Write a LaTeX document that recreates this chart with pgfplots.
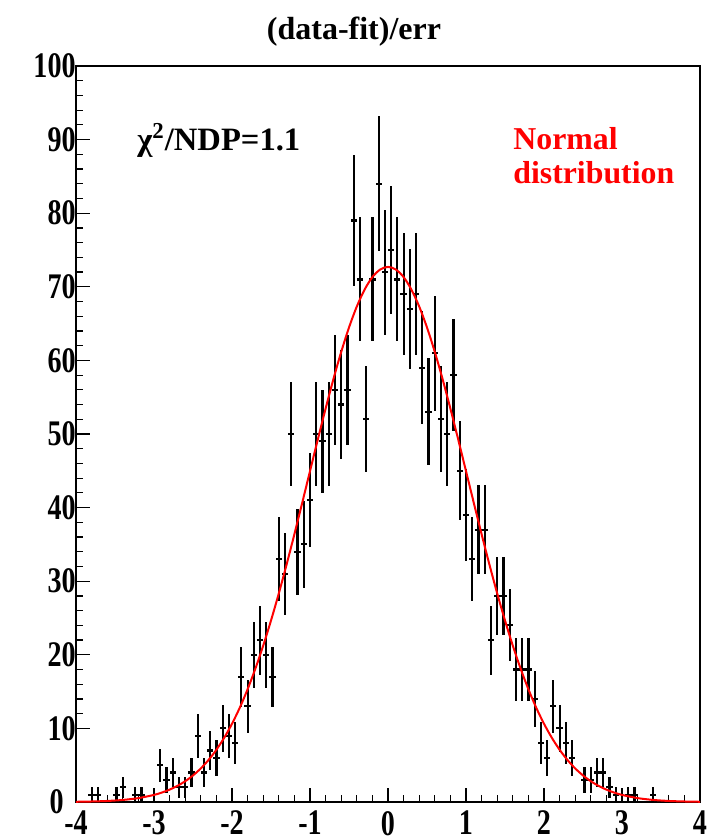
\documentclass[border=0pt]{standalone}
\usepackage{fontspec}
\setmainfont{Liberation Serif}
\newfontfamily\tickfont{Liberation Serif}[FakeStretch=0.78]
\usepackage{pgfplots}
\usepackage{pgfplotstable}
\pgfplotsset{compat=1.18}

\pgfplotstableread{
x y ey
-3.80 1 1
-3.72 1 1
-3.48 1 1
-3.40 2 1.414
-3.24 1 1
-3.16 1 1
-2.92 5 2.236
-2.84 3 1.732
-2.76 4 2
-2.68 2 1.414
-2.60 2 1.414
-2.52 4 2
-2.44 9 3
-2.36 4 2
-2.28 7 2.646
-2.20 6 2.449
-2.12 10 3.162
-2.04 9 3
-1.96 8 2.828
-1.88 17 4.123
-1.80 13 3.606
-1.72 20 4.472
-1.64 22 4.690
-1.56 20 4.472
-1.48 17 4.123
-1.40 33 5.745
-1.32 31 5.568
-1.24 50 7.071
-1.16 34 5.831
-1.08 35 5.916
-1.00 41 6.403
-0.92 50 7.071
-0.84 49 7
-0.76 50 7.071
-0.68 56 7.483
-0.60 54 7.348
-0.52 56 7.483
-0.44 79 8.888
-0.36 71 8.426
-0.28 52 7.211
-0.20 71 8.426
-0.12 84 9.165
-0.04 72 8.485
0.04 75 8.660
0.12 71 8.426
0.20 69 8.307
0.28 67 8.185
0.36 69 8.307
0.44 59 7.681
0.52 53 7.280
0.60 61 7.810
0.68 52 7.211
0.76 50 7.071
0.84 58 7.616
0.92 45 6.708
1.00 39 6.245
1.08 33 5.745
1.16 37 6.083
1.24 37 6.083
1.32 22 4.690
1.40 28 5.292
1.48 28 5.292
1.56 24 4.899
1.64 18 4.243
1.72 18 4.243
1.80 18 4.243
1.88 14 3.742
1.96 8 2.828
2.04 6 2.449
2.12 13 3.606
2.20 10 3.162
2.28 8 2.828
2.36 6 2.449
2.52 3 1.732
2.60 3 1.732
2.68 4 2
2.76 4 2
2.84 2 1.414
2.92 1 1
3.08 1 1
3.16 1 1
3.40 1 1
}\datatable

\pgfplotstableread{
x y
-4.0 0.03
-3.8 0.07
-3.6 0.14
-3.4 0.28
-3.2 0.53
-3.0 0.96
-2.9 1.28
-2.8 1.68
-2.7 2.19
-2.6 2.82
-2.5 3.61
-2.4 4.56
-2.3 5.72
-2.2 7.10
-2.1 8.73
-2.0 10.63
-1.9 12.82
-1.8 15.32
-1.7 18.13
-1.6 21.24
-1.5 24.66
-1.4 28.34
-1.3 32.27
-1.2 36.39
-1.1 40.64
-1.0 44.96
-0.9 49.26
-0.8 53.45
-0.7 57.45
-0.6 61.15
-0.5 64.47
-0.4 67.32
-0.3 69.62
-0.2 71.32
-0.1 72.35
0.0 72.70
0.1 72.35
0.2 71.32
0.3 69.62
0.4 67.32
0.5 64.47
0.6 61.15
0.7 57.45
0.8 53.45
0.9 49.26
1.0 44.96
1.1 40.64
1.2 36.39
1.3 32.27
1.4 28.34
1.5 24.66
1.6 21.24
1.7 18.13
1.8 15.32
1.9 12.82
2.0 10.63
2.1 8.73
2.2 7.10
2.3 5.72
2.4 4.56
2.5 3.61
2.6 2.82
2.7 2.19
2.8 1.68
2.9 1.28
3.0 0.96
3.2 0.53
3.4 0.28
3.6 0.14
3.8 0.07
4.0 0.03
}\fittable

\begin{document}
\begin{tikzpicture}
\begin{axis}[
  at={(0,0)}, anchor=south west,
  scale only axis,
  width=312pt, height=368pt,
  xmin=-4, xmax=4, ymin=0, ymax=100,
  xtick={-4,-3,-2,-1,0,1,2,3,4},
  ytick={10,20,30,40,50,60,70,80,90,100},
  extra y ticks={0},
  extra y tick style={yticklabel style={xshift=-6pt}},
  minor x tick num=4, minor y tick num=4,
  tick align=inside,
  xtick pos=bottom, ytick pos=left,
  major tick length=7pt, minor tick length=3.4pt,
  axis line style={line width=0.75pt},
  every tick/.style={black, line width=0.6pt},
  /pgf/number format/assume math mode=true,
  ticklabel style={font=\tickfont\fontsize{18}{21}\selectfont\bfseries},
  xticklabel style={yshift=-1pt},
  yticklabel style={inner sep=0pt, xshift=0pt},
  clip=false,
]
\addplot[draw=none, mark=none,
  error bars/.cd, x dir=both, x fixed=0.04, y dir=both, y explicit,
  error mark=none,
  error bar style={draw=black, line width=1.1pt}]
  table[x=x, y=y, y error=ey]{\datatable};
\addplot[red, line width=1pt, smooth] table[x=x, y=y]{\fittable};
\node[anchor=base, font=\fontsize{16}{19}\selectfont\bfseries] at (rel axis cs:0.4455,1) [yshift=13pt] {(data-fit)/err};
\node[anchor=base west, inner sep=0pt, font=\fontsize{16.3}{19}\selectfont\bfseries] at (rel axis cs:0.0978,0.8845) {χ\textsuperscript{2}/NDP=1.1};
\node[anchor=base west, inner sep=0pt, red, font=\fontsize{15.9}{19}\selectfont\bfseries] at (rel axis cs:0.7003,0.887) {Normal};
\node[anchor=base west, inner sep=0pt, red, font=\fontsize{15.9}{19}\selectfont\bfseries] at (rel axis cs:0.7003,0.84) {distribution};
\end{axis}
\pgfresetboundingbox
\path (-38pt,-19pt) rectangle (316pt,401pt);
\end{tikzpicture}
\end{document}
